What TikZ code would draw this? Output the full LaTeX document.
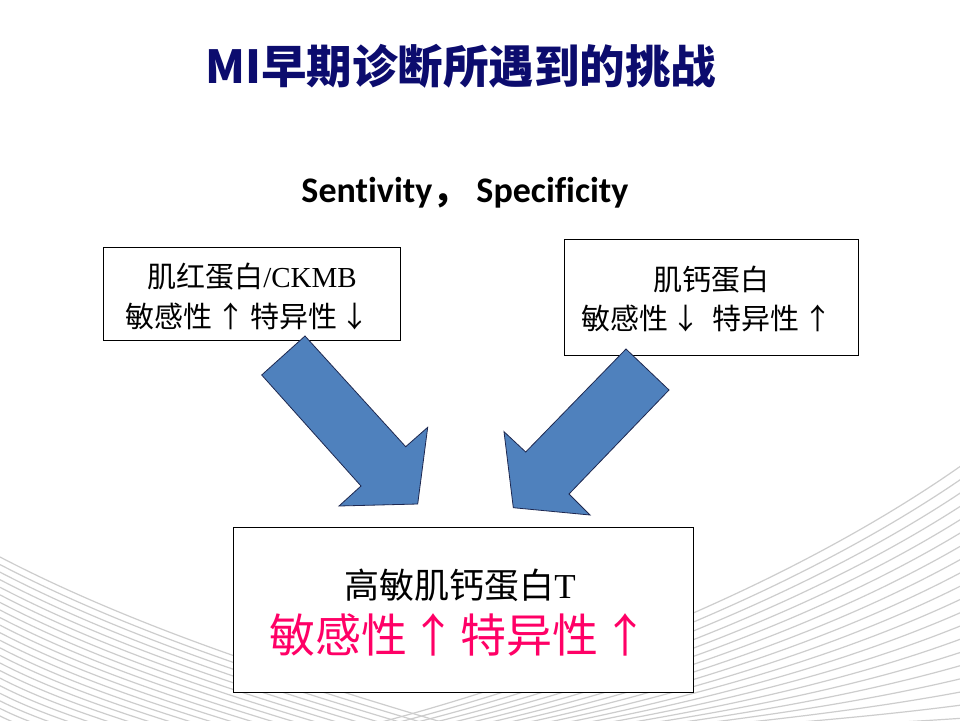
\documentclass[tikz,border=0pt]{standalone}
\usepackage{fontspec}
\setmainfont{Liberation Serif}
\newfontfamily\cjk{Noto Sans CJK SC}
\newfontfamily\calfont[Ligatures={NoCommon}]{Carlito}
\newcommand\fsz[1]{\fontsize{#1pt}{#1pt}\selectfont}
\newcommand\arw[2]{\kern#2pt#1\kern#2pt}
\definecolor{titlenavy}{RGB}{12,12,110}
\definecolor{arrowblue}{RGB}{79,129,189}
\definecolor{arrowedge}{RGB}{30,40,80}
\definecolor{hotpink}{RGB}{255,0,102}
\definecolor{fangray}{RGB}{205,205,205}
\tikzset{
  fan/.style={draw=fangray,line width=1.2pt},
  boxshape/.style={draw=black,fill=white,line width=1pt,inner sep=0pt,anchor=center},
  txt/.style={inner sep=0pt,anchor=center},
  bigarrow/.style={fill=arrowblue,draw=arrowedge,line width=0.8pt,line join=miter}
}
\begin{document}
\begin{tikzpicture}[x=1pt,y=-1pt]
\useasboundingbox (0,0) rectangle (960,720);
\fill[white] (0,0) rectangle (960,720);
% background fans
\begin{scope}
\clip (0,0) rectangle (960,720);
\foreach \i in {0,...,21}{
  \pgfmathsetmacro\t{\i/21}
  \draw[fan] ({0},{557+159*\t}) .. controls ({150-130*\t},{635+91*\t}) and ({330-290*\t},{690+42*\t}) .. ({520-460*\t},{745-5*\t});
}
\foreach \i in {0,...,19}{
  \pgfmathsetmacro\t{\i/19}
  \draw[fan] ({330+320*\t},{735}) .. controls ({560+220*\t},{680+48*\t}) and ({800+80*\t},{580+144*\t}) .. ({965},{463+255*\t});
}
\end{scope}
% title
\node[txt,text=titlenavy,font=\cjk\bfseries\fsz{45.5}] (title) at (461,66) {MI早期诊断所遇到的挑战};
\node[txt,font=\calfont\bfseries\fsz{36}] (sub) at (465,193) {Sentivity{\cjk\bfseries ，} Specificity};
% boxes
\node[boxshape,minimum width=297pt,minimum height=93pt] (lbox) at (251.5,293.5) {};
\node[boxshape,minimum width=294pt,minimum height=116pt] (rbox) at (711,297) {};
\node[boxshape,minimum width=460pt,minimum height=165pt] (bbox) at (463,609.5) {};
% box texts
\node[txt,font=\cjk\fsz{29}] (l1) at (252,277) {肌红蛋白{\rmfamily /CKMB}};
\node[txt,font=\cjk\fsz{29}] (l2) at (249,316) {敏感性\arw{↑}{5}特异性\arw{↓}{3}};
\node[txt,font=\cjk\fsz{29}] (r1) at (711,280) {肌钙蛋白};
\node[txt,font=\cjk\fsz{29}] (r2) at (709,318) {敏感性\arw{↓}{4} \arw{}{4}特异性\arw{↑}{4}};
\node[txt,font=\cjk\fsz{35}] (b1) at (460,585) {高敏肌钙蛋白{\rmfamily T}};
\node[txt,text=hotpink,font=\cjk\fsz{46}] (b2) at (461,635) {敏感性\arw{↑}{4}特异性\arw{↑}{4}};
% block arrows
\draw[bigarrow] (305,336) -- (261.7,375) -- (361,486) -- (339,506) -- (417.7,504) -- (427.7,427.3) -- (405.7,446.7) -- cycle;
\draw[bigarrow] (626,349) -- (669,390) -- (569,494) -- (590,515) -- (513.3,507.7) -- (504,431.7) -- (525.7,452) -- cycle;
\end{tikzpicture}
\end{document}
